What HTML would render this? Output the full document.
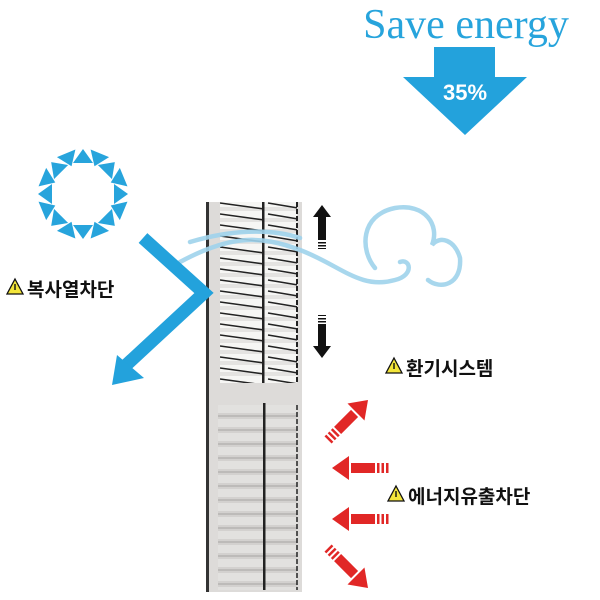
<!DOCTYPE html>
<html><head><meta charset="utf-8"><style>
html,body{margin:0;padding:0;background:#fff;}
body{width:600px;height:600px;position:relative;overflow:hidden;}
.lbl{position:absolute;font-family:"Liberation Sans","Noto Sans CJK KR","NanumGothic",sans-serif;font-size:19px;font-weight:bold;color:#111;white-space:nowrap;}
</style></head><body>
<svg width="600" height="600" viewBox="0 0 600 600" style="position:absolute;left:0;top:0">
<defs>
<pattern id="up" x="220" y="202" width="80" height="11" patternUnits="userSpaceOnUse">
<rect width="80" height="11" fill="#f6f6f4"/>
<rect y="5" width="80" height="4" fill="#e4e3e1"/>
<line x1="0" y1="1" x2="44" y2="7" stroke="#222" stroke-width="1.5"/>
<line x1="48" y1="1" x2="78" y2="6" stroke="#222" stroke-width="1.5"/>
</pattern>
<pattern id="lo" x="218" y="405" width="80" height="14" patternUnits="userSpaceOnUse">
<rect width="80" height="14" fill="#d3d1cf"/>
<rect y="0" width="80" height="8" fill="#e2e1df"/>
<rect y="10" width="80" height="2" fill="#bdbbb9"/>
</pattern>
<g id="ra">
<polygon points="0,0 17,-12 17,12" fill="#e12726"/>
<rect x="19" y="-5" width="24" height="10" fill="#e12726"/>
<rect x="45" y="-5" width="2.5" height="10" fill="#e12726"/>
<rect x="49.5" y="-5" width="2.5" height="10" fill="#e12726"/>
<rect x="54" y="-5" width="2.5" height="10" fill="#e12726"/>
</g>
<g id="st">
<polygon points="-10,-31 10,-31 0,-45" fill="#27a4dc"/>
</g>
<g id="st2">
<polygon points="-10,-44 10,-44 0,-30" fill="#27a4dc"/>
</g>
</defs>

<text x="466" y="38" text-anchor="middle" font-family="Liberation Serif,serif" font-size="42" fill="#27a4dc">Save energy</text>
<polygon points="434,47 495,47 495,77 527,77 465,135 403,77 434,77" fill="#23a2dc"/>
<text x="465" y="100" text-anchor="middle" font-family="Liberation Sans,sans-serif" font-weight="bold" font-size="22" fill="#fff">35%</text>

<g transform="translate(83,194)">
<use href="#st"/><use href="#st2" transform="rotate(22.5)"/><use href="#st" transform="rotate(45)"/><use href="#st2" transform="rotate(67.5)"/>
<use href="#st" transform="rotate(90)"/><use href="#st2" transform="rotate(112.5)"/><use href="#st" transform="rotate(135)"/>
<use href="#st2" transform="rotate(157.5)"/><use href="#st" transform="rotate(180)"/><use href="#st2" transform="rotate(202.5)"/>
<use href="#st" transform="rotate(225)"/><use href="#st2" transform="rotate(247.5)"/><use href="#st" transform="rotate(270)"/>
<use href="#st2" transform="rotate(292.5)"/><use href="#st" transform="rotate(315)"/><use href="#st2" transform="rotate(337.5)"/>
</g>

<rect x="206" y="202" width="96" height="390" fill="#dddbd9"/>
<rect x="206" y="202" width="3" height="390" fill="#333"/>
<rect x="220" y="202" width="77" height="181" fill="url(#up)"/>
<rect x="218" y="405" width="79" height="185" fill="url(#lo)"/>
<rect x="262" y="202" width="2.5" height="181" fill="#222"/>
<rect x="263" y="403" width="2.5" height="187" fill="#222"/>
<line x1="297" y1="202" x2="297" y2="383" stroke="#222" stroke-width="2" stroke-dasharray="5,2"/>
<line x1="297" y1="405" x2="297" y2="590" stroke="#222" stroke-width="1.5" stroke-dasharray="5,2"/>

<g fill="none" stroke="#9fd3ec" stroke-width="4.5" stroke-linecap="round" opacity="0.9">
<path d="M180,262 C230,235 260,235 300,250 C340,265 360,290 395,280 C415,275 410,258 400,262"/>
<path d="M190,242 C230,230 270,228 300,238"/>
<path d="M375,268 C360,250 360,215 395,208 C425,203 440,225 432,245 C440,235 455,240 460,258 C462,285 440,290 428,280"/>
</g>

<polyline points="143,238 204,293 123,368" fill="none" stroke="#23a2dc" stroke-width="13"/>
<polygon points="112,385 117,355 144,378" fill="#23a2dc"/>

<g fill="#111">
<polygon points="322,205 331,217 326,217 326,240 318,240 318,217 313,217"/>
<rect x="318" y="242" width="8" height="1.5"/><rect x="318" y="245" width="8" height="1.5"/><rect x="318" y="248" width="8" height="1"/>
<polygon points="322,358 331,346 326,346 326,324 318,324 318,346 313,346"/>
<rect x="318" y="321" width="8" height="1.5"/><rect x="318" y="318" width="8" height="1.5"/><rect x="318" y="315" width="8" height="1"/>
</g>

<use href="#ra" transform="translate(332,468)"/>
<use href="#ra" transform="translate(332,519)"/>
<use href="#ra" transform="translate(368,400) rotate(135)"/>
<use href="#ra" transform="translate(368,588) rotate(-135)"/>

<g stroke="#111" stroke-width="1.3" fill="#f3e53a">
<polygon points="15,279 23,294 7,294"/>
<polygon points="394,358 402,373 386,373"/>
<polygon points="396,486 404,501 388,501"/>
</g>
<g fill="#111"><rect x="14.3" y="284" width="1.4" height="6"/><rect x="393.3" y="363" width="1.4" height="6"/><rect x="395.3" y="491" width="1.4" height="6"/></g>
</svg>
<div class="lbl" style="left:27px;top:275px">복사열차단</div>
<div class="lbl" style="left:406px;top:354px">환기시스템</div>
<div class="lbl" style="left:408px;top:482px">에너지유출차단</div>
</body></html>
